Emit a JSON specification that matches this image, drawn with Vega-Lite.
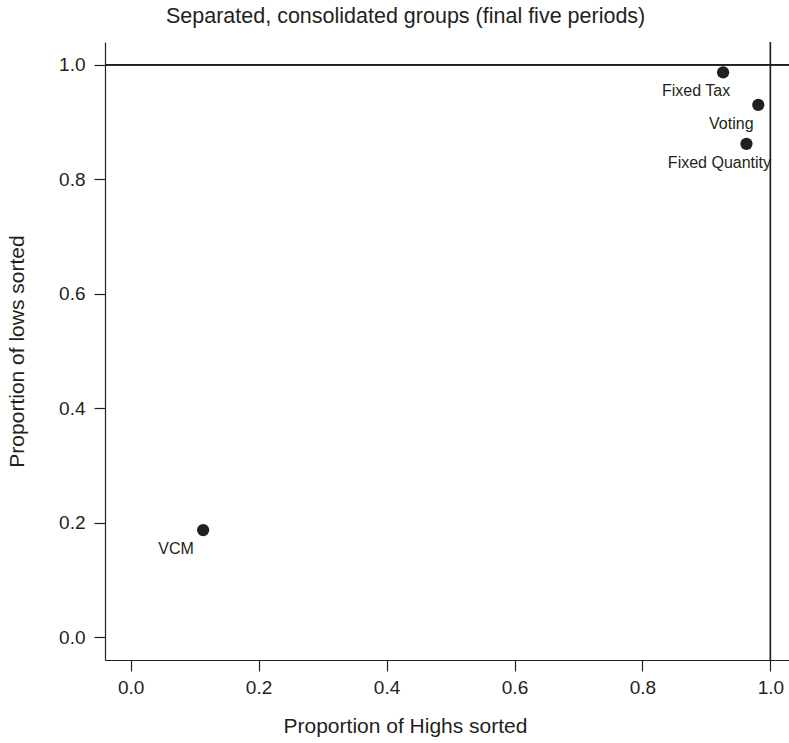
{
  "$schema": "https://vega.github.io/schema/vega-lite/v6.json",
  "width": 684,
  "height": 618,
  "autosize": "none",
  "padding": {"left": 105, "top": 42, "right": 0, "bottom": 83},
  "background": "white",
  "config": {
    "view": {"stroke": null},
    "font": "Liberation Sans",
    "axis": {"grid": false, "domainColor": "#231f20", "tickColor": "#231f20", "labelColor": "#231f20", "titleColor": "#231f20", "domainWidth": 1.2, "tickWidth": 1.2, "tickSize": 11, "labelFontSize": 19, "titleFontSize": 21, "titleFontWeight": "normal", "labelFont": "Liberation Sans", "titleFont": "Liberation Sans"}
  },
  "title": {"text": "Separated, consolidated groups (final five periods)", "fontSize": 21.5, "fontWeight": "normal", "color": "#231f20", "anchor": "start", "frame": "group", "dx": 61, "offset": 14, "font": "Liberation Sans"},
  "data": {"values": [
    {"group": "Fixed Tax", "highs": 0.926, "lows": 0.987},
    {"group": "Voting", "highs": 0.981, "lows": 0.930},
    {"group": "Fixed Quantity", "highs": 0.9625, "lows": 0.862},
    {"group": "VCM", "highs": 0.1134, "lows": 0.187}
  ]},
  "layer": [
    {"mark": {"type": "rule", "color": "#231f20", "strokeWidth": 1.2}, "encoding": {"y": {"datum": 1, "type": "quantitative", "scale": {"domain": [-0.04, 1.04]}}}},
    {"mark": {"type": "rule", "color": "#231f20", "strokeWidth": 1.2}, "encoding": {"x": {"datum": 1, "type": "quantitative", "scale": {"domain": [-0.04, 1.029]}}}},
    {
      "mark": {"type": "point", "filled": true, "size": 150, "color": "#231f20", "opacity": 1},
      "encoding": {
        "x": {"field": "highs", "type": "quantitative", "scale": {"domain": [-0.04, 1.029], "nice": false, "zero": false}, "axis": {"values": [0, 0.2, 0.4, 0.6, 0.8, 1.0], "format": ".1f", "title": "Proportion of Highs sorted", "labelPadding": 7, "titlePadding": 18, "titleX": 300}},
        "y": {"field": "lows", "type": "quantitative", "scale": {"domain": [-0.04, 1.04], "nice": false, "zero": false}, "axis": {"values": [0, 0.2, 0.4, 0.6, 0.8, 1.0], "format": ".1f", "title": "Proportion of lows sorted", "labelPadding": 9, "titlePadding": 31}}
      }
    },
    {
      "mark": {"type": "text", "dx": -27, "dy": 19, "align": "center", "baseline": "middle", "fontSize": 16, "color": "#231f20", "font": "Liberation Sans"},
      "encoding": {
        "x": {"field": "highs", "type": "quantitative"},
        "y": {"field": "lows", "type": "quantitative"},
        "text": {"field": "group"}
      }
    }
  ]
}
